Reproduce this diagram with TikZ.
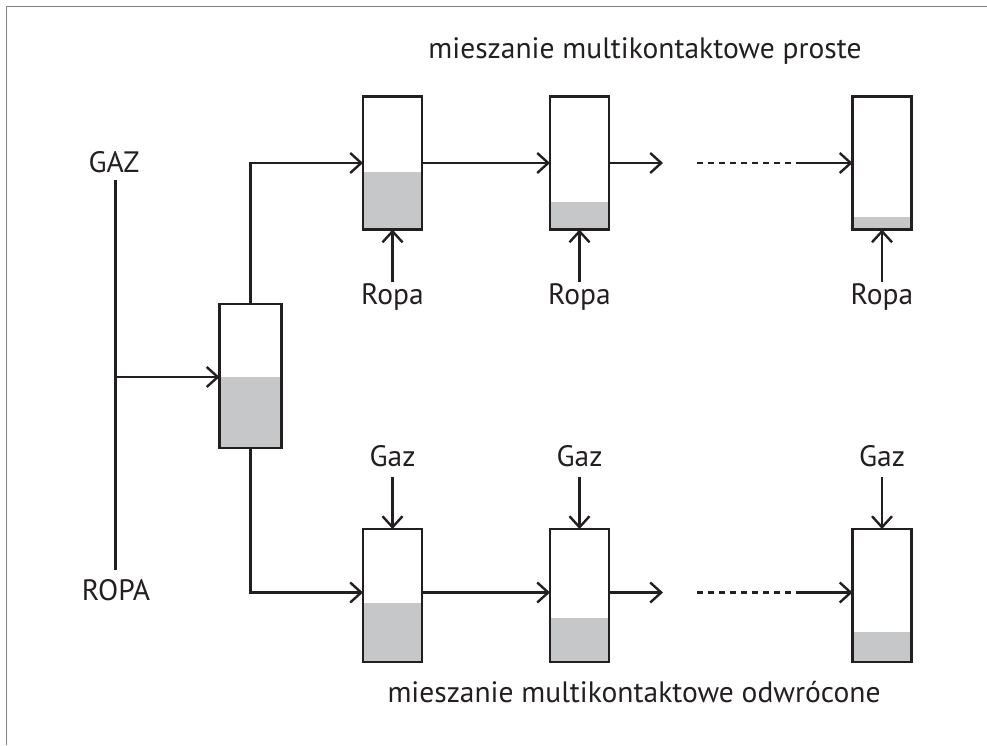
\documentclass[tikz,border=0pt]{standalone}
\usepackage{fontspec}
\setmainfont{PT Sans}
\usetikzlibrary{arrows.meta}
\definecolor{ink}{RGB}{35,31,32}
\definecolor{liq}{RGB}{198,199,200}
\definecolor{frame}{RGB}{130,130,130}
\begin{document}
\begin{tikzpicture}[x=1pt,y=-1pt,
  line width=2.4pt, draw=ink,
  every node/.style={inner sep=0pt, outer sep=0pt, text=ink, font=\fontsize{29.5}{35}\selectfont},
  arr/.style={draw=ink, line width=2.4pt, -{Straight Barb[length=11pt,width=20pt,line width=2.4pt]}},
  ln/.style={draw=ink, line width=2.4pt},
  dl/.style={draw=ink, line width=2.4pt, dash pattern=on 6pt off 5pt},
  tank/.style={draw=ink, line width=2.4pt, minimum width=59pt, minimum height=133pt,
    path picture={\fill[liq] (path picture bounding box.south west) rectangle ([yshift=#1pt]path picture bounding box.south east);}},
  lbl/.style={anchor=base}
]
\useasboundingbox (0,0) rectangle (987,745);
% frame (top and left edges)
\draw[frame, line width=1.6pt] (6.5,745) -- (6.5,6.5) -- (987,6.5);

% main left column
\node[lbl] (gaz) at (114,172) {GAZ};
\node[lbl] (ropa) at (116,600) {ROPA};
\coordinate (ltop) at (115.5,180);
\coordinate (lbot) at (115.5,570);
\coordinate (ljoin) at (115.5,377);
\draw[ln] (ltop) -- (lbot);

% separator
\node[tank=71, minimum width=62pt, minimum height=144pt] (sep) at (250.5,376) {};
\draw[arr] (ljoin) -- (sep.west |- ljoin);

% upper row
\node[tank=58] (u1) at (392.5,163) {};
\node[tank=28] (u2) at (579.5,163) {};
\node[tank=13] (u3) at (882,163) {};
\coordinate (ucorner) at (sep.north |- u1.west);
\draw[arr] (sep.north) -- (ucorner) -- (u1.west);
\draw[arr] (u1.east) -- (u2.west);
\coordinate (uarr) at (663,163);
\draw[arr] (u2.east) -- (uarr);
\coordinate (udash) at (697,163);
\coordinate (usol) at (796,163);
\draw[dl] (udash) -- (usol);
\draw[arr] (usol) -- (u3.west);

\node[lbl] (r1) at (392.5,304) {Ropa};
\node[lbl] (r2) at (579.5,304) {Ropa};
\node[lbl] (r3) at (882,304) {Ropa};
\foreach \i in {1,2,3}{
  \coordinate (rs\i) at ([yshift=-52pt]u\i.south);
  \draw[arr] (rs\i) -- (u\i.south);
}

% lower row
\node[tank=59] (d1) at (392.5,595.5) {};
\node[tank=44] (d2) at (579.5,595.5) {};
\node[tank=30] (d3) at (882,595.5) {};
\coordinate (dy) at (0,592.5);
\coordinate (dcorner) at (sep.south |- dy);
\draw[arr] (sep.south) -- (dcorner) -- (d1.west |- dy);
\draw[arr] (d1.east |- dy) -- (d2.west |- dy);
\coordinate (darr) at (663,592.5);
\draw[arr] (d2.east |- dy) -- (darr);
\coordinate (ddash) at (697,592.5);
\coordinate (dsol) at (797,592.5);
\draw[dl] (ddash) -- (dsol);
\draw[arr] (dsol) -- (d3.west |- dy);

\node[lbl] (g1) at (392.5,466) {Gaz};
\node[lbl] (g2) at (579.5,466) {Gaz};
\node[lbl] (g3) at (882,466) {Gaz};
\foreach \i in {1,2,3}{
  \coordinate (gs\i) at ([yshift=52pt]d\i.north);
  \draw[arr] (gs\i) -- (d\i.north);
}

% titles
\node[lbl] (t1) at (645,58) {mieszanie multikontaktowe proste};
\node[lbl] (t2) at (634,702) {mieszanie multikontaktowe odwrócone};
\end{tikzpicture}
\end{document}
